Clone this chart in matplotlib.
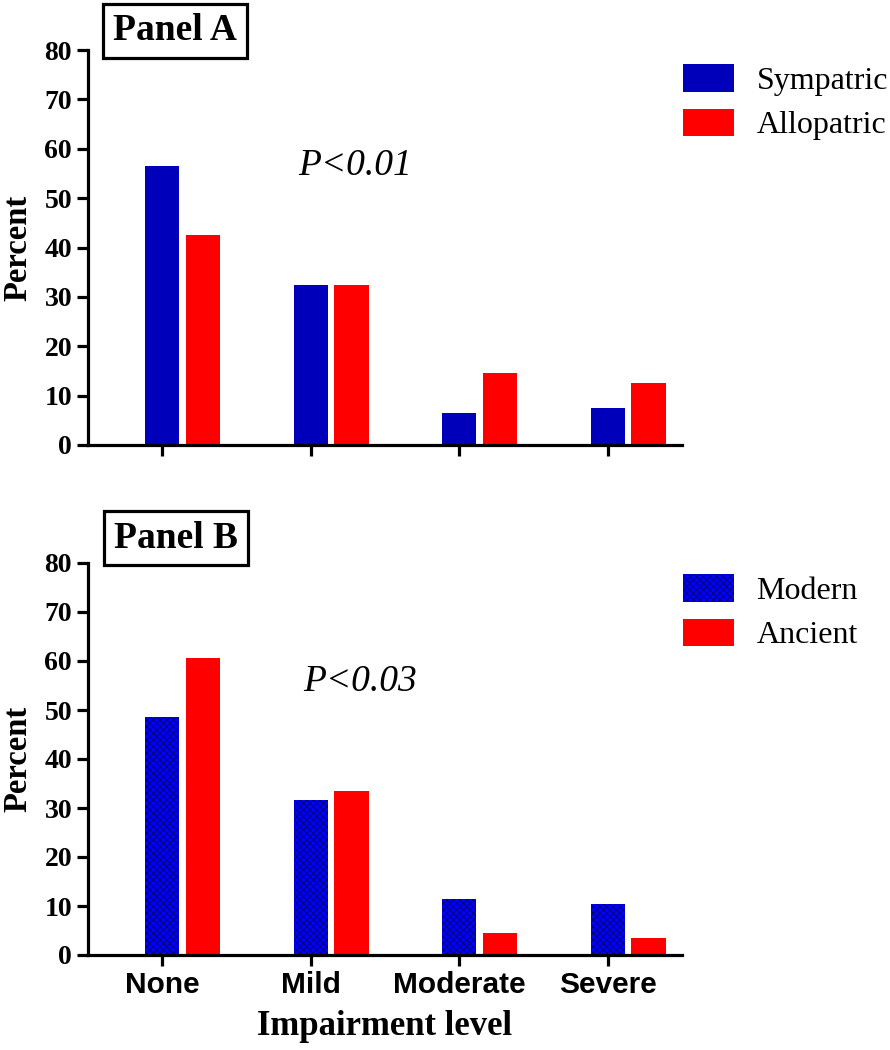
import numpy as np
import matplotlib
matplotlib.use("Agg")
import matplotlib.pyplot as plt

# impairment levels
levels = ['None', 'Mild', 'Moderate', 'Severe']

# panel A: sympatric vs allopatric (percent)
sympatric = [56.5, 32.5, 6.5, 7.5]
allopatric = [42.5, 32.5, 14.5, 12.5]

# panel B: modern vs ancient (percent)
modern = [48.6, 31.6, 11.5, 10.5]
ancient = [60.7, 33.5, 4.5, 3.5]

plt.rcParams['font.family'] = ['Liberation Serif', 'DejaVu Serif']
plt.rcParams['hatch.linewidth'] = 0.7

W, H = 890, 1050
fig = plt.figure(figsize=(W / 100, H / 100), dpi=100)

def px_axes(left, right, top, bottom):
    return fig.add_axes([left / W, 1 - bottom / H, (right - left) / W, (bottom - top) / H])

axA = px_axes(88, 682, 50, 445)
axB = px_axes(88, 682, 563, 955)

x = np.arange(len(levels))
bw = 0.232
off = 0.273


def style_axis(ax, show_labels):
    for s in ['top', 'right']:
        ax.spines[s].set_visible(False)
    for s in ['left', 'bottom']:
        ax.spines[s].set_linewidth(2.3)
    ax.set_xlim(-0.5, 3.5)
    ax.set_ylim(0, 80)
    ax.set_yticks(range(0, 81, 10))
    ax.set_xticks(x)
    ax.tick_params(direction='out', length=8, width=2.3)
    for lab in ax.get_yticklabels():
        lab.set_fontsize(20)
        lab.set_fontweight('bold')
    if show_labels:
        ax.set_xticklabels(levels, fontsize=21.5, fontweight='bold', family='Liberation Sans')
    else:
        ax.set_xticklabels([])
    ax.set_ylabel('Percent', fontsize=23.5, fontweight='bold', labelpad=8)


def add_legend(ax, top_px):
    ax.legend(loc='upper left', bbox_to_anchor=(683 / W, 1 - top_px / H), bbox_transform=fig.transFigure,
              frameon=False, fontsize=23, borderpad=0, borderaxespad=0, handlelength=1.6,
              handleheight=0.95, labelspacing=0.4, handletextpad=0.7)


# Panel A
axA.bar(x, sympatric, bw, color='#0000bb', label='Sympatric', linewidth=0)
axA.bar(x + off, allopatric, bw, color='#ff0000', label='Allopatric', linewidth=0)
style_axis(axA, False)
axA.text(1.3, 56.5, 'P<0.01', fontsize=27, style='italic', ha='center', va='center')
add_legend(axA, 64)
fig.text(175 / W, 1 - 31 / H, 'Panel A', fontsize=27, fontweight='bold', ha='center', va='center',
         bbox=dict(boxstyle='square,pad=0.26', fc='white', ec='black', lw=2.3))

# Panel B
axB.bar(x, modern, bw, color='#0000ff', edgecolor='#00007a', hatch='xxxxx', label='Modern', linewidth=0)
axB.bar(x + off, ancient, bw, color='#ff0000', label='Ancient', linewidth=0)
style_axis(axB, True)
axB.set_xlabel('Impairment level', fontsize=25, fontweight='bold', labelpad=8)
axB.text(1.33, 55.8, 'P<0.03', fontsize=27, style='italic', ha='center', va='center')
add_legend(axB, 574)
fig.text(176 / W, 1 - 538 / H, 'Panel B', fontsize=27, fontweight='bold', ha='center', va='center',
         bbox=dict(boxstyle='square,pad=0.26', fc='white', ec='black', lw=2.3))

fig.savefig('out.png', dpi=100)
